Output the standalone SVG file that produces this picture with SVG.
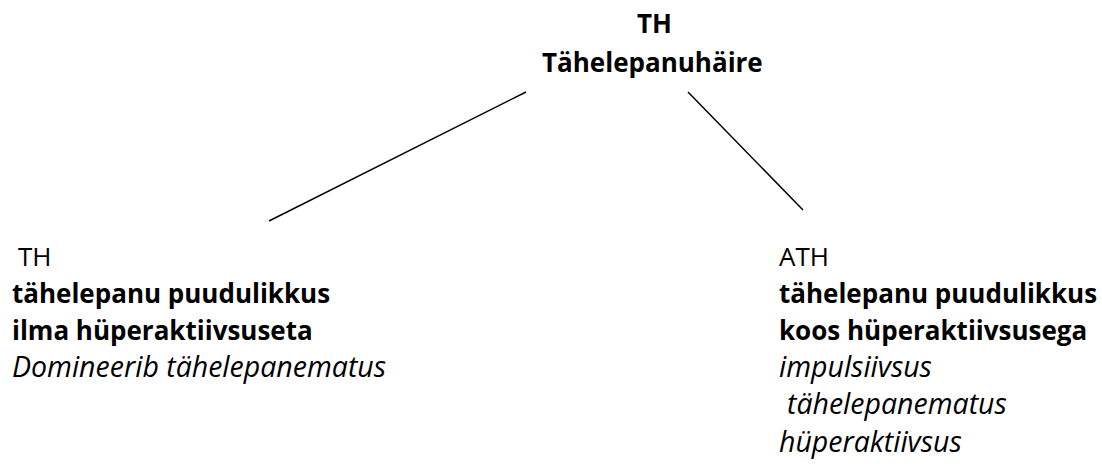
<svg xmlns="http://www.w3.org/2000/svg" width="1102" height="466" viewBox="0 0 1102 466">
<style>
text{font-family:"Open Sans","Liberation Sans",sans-serif;font-size:26px;fill:#000}
.b{font-weight:bold}
.i{font-style:italic;font-size:28.5px}
line{stroke:#000;stroke-width:1.5}
</style>
<rect width="1102" height="466" fill="#fff"/>
<g id="root">
<text class="b" x="637" y="33">TH</text>
<text class="b" x="542" y="72">Tähelepanuhäire</text>
</g>
<g id="connectors">
<line x1="526" y1="92" x2="269" y2="221"/>
<line x1="688" y1="92" x2="803" y2="210"/>
</g>
<g id="left">
<text x="18" y="266">TH</text>
<text class="b" x="12" y="303">tähelepanu puudulikkus</text>
<text class="b" x="12" y="340">ilma hüperaktiivsuseta</text>
<text class="i" x="12" y="377">Domineerib tähelepanematus</text>
</g>
<g id="right">
<text x="779" y="266">ATH</text>
<text class="b" x="779" y="303">tähelepanu puudulikkus</text>
<text class="b" x="779" y="340">koos hüperaktiivsusega</text>
<text class="i" x="779" y="377">impulsiivsus</text>
<text class="i" x="787" y="414">tähelepanematus</text>
<text class="i" x="779" y="452">hüperaktiivsus</text>
</g>
</svg>
